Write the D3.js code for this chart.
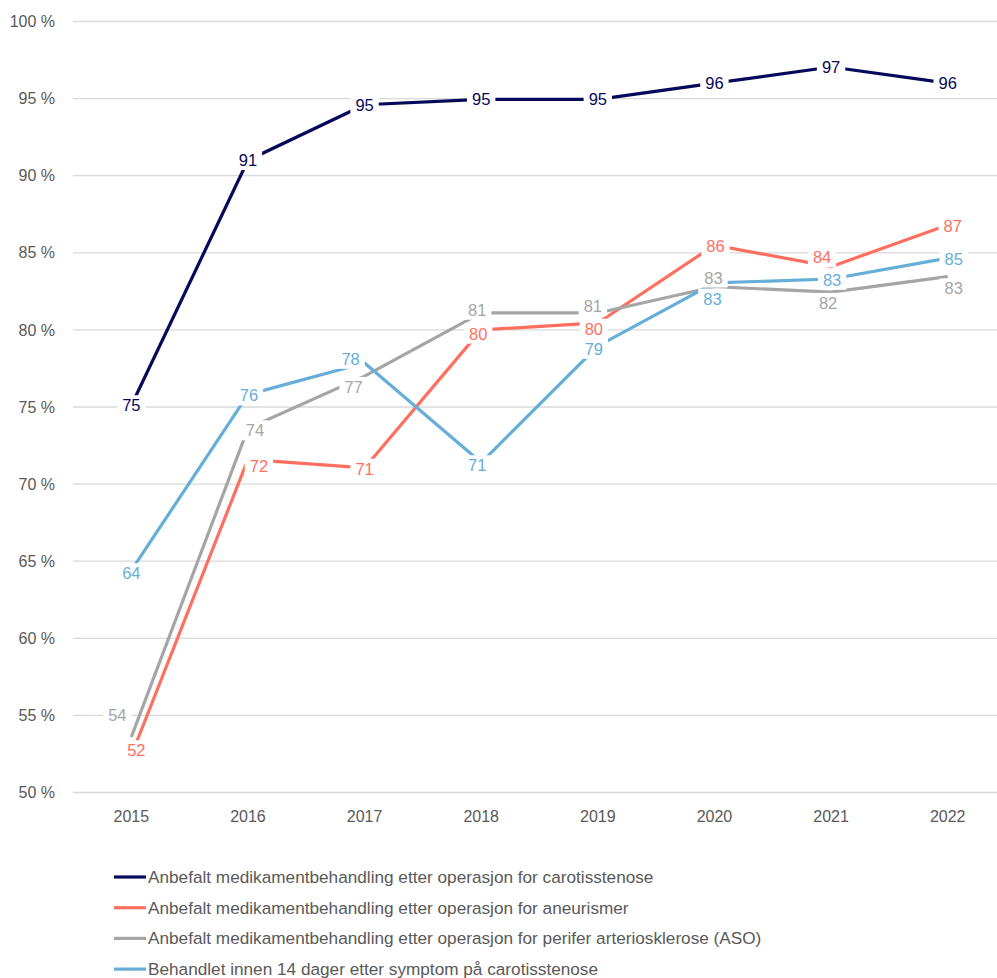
<!DOCTYPE html>
<html><head><meta charset="utf-8">
<script src="https://cdn.jsdelivr.net/npm/d3@7"></script>
<style>body{margin:0;background:#fff}svg{display:block}</style>
</head><body>
<svg id="c" width="997" height="978"></svg>
<script>
const years = ["2015","2016","2017","2018","2019","2020","2021","2022"];
const seriesNames = [
  "Anbefalt medikamentbehandling etter operasjon for carotisstenose",
  "Anbefalt medikamentbehandling etter operasjon for aneurismer",
  "Anbefalt medikamentbehandling etter operasjon for perifer arteriosklerose (ASO)",
  "Behandlet innen 14 dager etter symptom på carotisstenose"
];
const carotis = [75.1, 91.0, 94.6, 94.95, 94.95, 96.0, 97.05, 96.0];
const aneurismer = [52.4, 71.6, 71.05, 80.0, 80.45, 85.5, 84.1, 86.8];
const aso = [53.6, 73.6, 77.0, 81.1, 81.1, 82.8, 82.45, 83.45];
const behandlet14 = [64.4, 75.8, 77.85, 71.4, 78.95, 83.05, 83.3, 84.65];
const yTicks = [50, 55, 60, 65, 70, 75, 80, 85, 90, 95, 100];

// layout (label nudges, px) kept separate from data
const colors = ["#06085a", "#ff6f5f", "#a5a5a5", "#66aed8"];
const labelNudge = [
  [[0,0],[0,0],[0,0],[0,0],[0,0],[0,0],[0,0],[0,0]],
  [[5,-5],[11,7],[0,1],[-3,4],[-4,6],[1,1],[-9,-9],[5,1]],
  [[-14,-22],[7,2],[-11,11],[-4,-3],[-5,-7],[-1,-9],[-3,11],[6,12]],
  [[0,3],[1,1],[-14,-4],[-4,3],[-4,3],[-2,16],[1,1],[6,1]]
];
const allSeries = [carotis, aneurismer, aso, behandlet14];

const svg = d3.select("#c");
const x = d3.scaleBand().domain(years).range([73, 1006]);
const y = d3.scaleLinear().domain([50, 100]).range([792.5, 21.5]);
const font = "'Liberation Sans', Arial, sans-serif";

// gridlines
svg.append("g").selectAll("line").data(yTicks).join("line")
  .attr("x1", 73).attr("x2", 997)
  .attr("y1", d => y(d)).attr("y2", d => y(d))
  .attr("stroke", "#d9d9d9").attr("stroke-width", 1.3);

// y axis
const yAxis = d3.axisLeft(y).tickValues(yTicks).tickSize(0).tickPadding(0)
  .tickFormat(d => d + " %");
const gy = svg.append("g").attr("transform", "translate(55,0)").call(yAxis);
gy.select(".domain").remove();
gy.selectAll("text").attr("fill", "#595959").style("font-family", font).style("font-size", "16px");

// x axis
const xAxis = d3.axisBottom(x).tickSize(0).tickPadding(0);
const gx = svg.append("g").attr("transform", "translate(0,811)").call(xAxis);
gx.select(".domain").remove();
gx.selectAll("text").attr("fill", "#595959").style("font-family", font).style("font-size", "16px");

const cx = d => x(d) + x.bandwidth() / 2;
const line = d3.line().x((d, i) => cx(years[i])).y(d => y(d));

allSeries.forEach((s, k) => {
  svg.append("path").datum(s).attr("d", line)
    .attr("fill", "none").attr("stroke", colors[k]).attr("stroke-width", 3.2)
    .attr("stroke-linejoin", "round");
});

// labels
allSeries.forEach((s, k) => {
  const g = svg.append("g");
  s.forEach((v, i) => {
    const px = cx(years[i]) + labelNudge[k][i][0];
    const py = y(v) + labelNudge[k][i][1];
    const lg = g.append("g").attr("transform", `translate(${px},${py})`);
    const t = lg.append("text").text(Math.round(v))
      .attr("text-anchor", "middle").attr("dy", "0.35em")
      .attr("fill", colors[k]).style("font-family", font).style("font-size", "16.5px");
    const bb = t.node().getBBox();
    lg.insert("rect", "text").attr("x", bb.x - 5).attr("y", bb.y - 1)
      .attr("width", bb.width + 10).attr("height", bb.height + 2).attr("fill", "#fff");
  });
});

// legend
const lgd = svg.append("g");
seriesNames.forEach((n, k) => {
  const yy = 877 + k * 30.7;
  lgd.append("line").attr("x1", 114).attr("x2", 146).attr("y1", yy).attr("y2", yy)
    .attr("stroke", colors[k]).attr("stroke-width", 3.2);
  lgd.append("text").attr("x", 148).attr("y", yy).attr("dy", "0.35em").text(n)
    .attr("fill", "#595959").style("font-family", font).style("font-size", "17.2px");
});
</script>
</body></html>
